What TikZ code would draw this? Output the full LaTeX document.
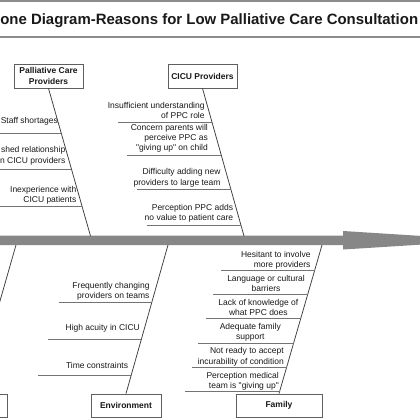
\documentclass[tikz,border=0pt]{standalone}
\usepackage{fontspec}
\setmainfont{Liberation Sans}
\usetikzlibrary{calc}
\definecolor{spinegray}{RGB}{135,135,135}
\definecolor{bonegray}{RGB}{60,60,60}
\definecolor{linegray}{RGB}{115,115,115}
\definecolor{boxgray}{RGB}{95,95,95}
\definecolor{titlegray}{RGB}{140,140,140}
\definecolor{txt}{RGB}{25,25,25}
\begin{document}
\begin{tikzpicture}[x=1pt,y=-1pt,
  catbox/.style={draw=boxgray, line width=0.8pt, fill=white, text=txt,
    font=\fontsize{8.5}{10.8}\selectfont\bfseries, align=center, inner sep=0pt},
  cause/.style={text=txt, font=\fontsize{8.5}{10.2}\selectfont, inner sep=0pt,
    align=right, anchor=east},
  ccause/.style={text=txt, font=\fontsize{8.5}{10.2}\selectfont, inner sep=0pt,
    align=center},
  bone/.style={draw=bonegray, line width=0.75pt},
  uline/.style={draw=linegray, line width=0.75pt}]
\useasboundingbox (0,0) rectangle (420,420);
\clip (0,0) rectangle (420,420);
\fill[white] (0,0) rectangle (420,420);

% title
\draw[titlegray, line width=1.4pt] (-10,1.2) rectangle (430,37);
\node[text=txt, font=\fontsize{14.95}{18}\selectfont\bfseries, anchor=base west, inner sep=0pt]
  (title) at (0.1,25) {one Diagram-Reasons for Low Palliative Care Consultation};

% spine with arrow head
\fill[spinegray] (-10,235.7) -- (343,235.7) -- (343,231) -- (490,240.3)
  -- (343,249.5) -- (343,245) -- (-10,245) -- cycle;
\coordinate (pcpS) at (90.5,236);
\coordinate (cicuS) at (244,236);
\coordinate (patS) at (16,245);
\coordinate (envS) at (168,245);
\coordinate (famS) at (322,245);

% category boxes
\node[catbox, minimum width=69pt, minimum height=24pt] (pcp) at (48.5,76) {Palliative Care\\Providers};
\node[catbox, minimum width=69pt, minimum height=24pt] (cicu) at (202.5,76) {CICU Providers};
\node[catbox, minimum width=67pt, minimum height=23pt] (pat) at (-26.5,405.5) {};
\node[catbox, minimum width=70pt, minimum height=23pt] (env) at (126,405.5) {Environment};
\node[catbox, minimum width=86pt, minimum height=23pt] (fam) at (279,405.5) {Family};

% bones
\draw[bone] (pcp.south) -- (pcpS);
\draw[bone] (cicu.south) -- (cicuS);
\draw[bone] (pat.north) -- (patS);
\draw[bone] (env.north) -- (envS);
\draw[bone] (fam.north) -- (famS);

% Palliative Care Providers causes
\draw[uline] ($(pcp.south)!0.302!(pcpS)$) -- ++(-94,0);
\draw[uline] ($(pcp.south)!0.547!(pcpS)$) -- ++(-94,0);
\draw[uline] ($(pcp.south)!0.797!(pcpS)$) -- ++(-94,0);
\node[cause] (p1) at (58,121.7) {Staff shortages};
\node[cause] (p2) at (65.5,155.8) {shed relationship\\n CICU providers};
\node[cause] (p3) at (76.5,195.3) {Inexperience with\\CICU patients};

% CICU Providers causes
\draw[uline] ($(cicu.south)!0.228!(cicuS)$) -- ++(-94,0);
\draw[uline] ($(cicu.south)!0.457!(cicuS)$) -- ++(-94,0);
\draw[uline] ($(cicu.south)!0.684!(cicuS)$) -- ++(-94,0);
\draw[uline] ($(cicu.south)!0.926!(cicuS)$) -- ++(-94,0);
\node[cause] (c1) at (204.8,110.7) {Insufficient understanding\\of PPC role};
\node[cause] (c2) at (208,138.6) {Concern parents will\\perceive PPC as\\\textquotedbl giving up\textquotedbl{} on child};
\node[cause] (c3) at (220.7,177.9) {Difficulty adding new\\providers to large team};
\node[cause] (c4) at (233.3,213.5) {Perception PPC adds\\no value to patient care};

% Environment causes
\draw[uline] ($(env.north)!0.615!(envS)$) -- ++(-93,0);
\draw[uline] ($(env.north)!0.367!(envS)$) -- ++(-93,0);
\draw[uline] ($(env.north)!0.121!(envS)$) -- ++(-93,0);
\node[cause] (e1) at (149.7,290.9) {Frequently changing\\providers on teams};
\node[cause] (e2) at (140,328.7) {High acuity in CICU};
\node[cause] (e3) at (128.3,365) {Time constraints};

% Family causes
\draw[uline] ($(fam.north)!0.828!(famS)$) -- ++(-94,0);
\draw[uline] ($(fam.north)!0.669!(famS)$) -- ++(-95,0);
\draw[uline] ($(fam.north)!0.503!(famS)$) -- ++(-95,0);
\draw[uline] ($(fam.north)!0.340!(famS)$) -- ++(-96,0);
\draw[uline] ($(fam.north)!0.177!(famS)$) -- ++(-95,0);
\draw[uline] ($(fam.north)!0.015!(famS)$) -- ++(-95,0);
\node[cause] (f1) at (310.7,260) {Hesitant to involve\\more providers};
\node[ccause] (f2) at (266,283.3) {Language or cultural\\barriers};
\node[ccause] (f3) at (258.4,307.3) {Lack of knowledge of\\what PPC does};
\node[ccause] (f4) at (250.3,332.5) {Adequate family\\support};
\node[cause] (f5) at (284,356.7) {Not ready to accept\\incurability of condition};
\node[cause] (f6) at (279,381) {Perception medical\\team is \textquotedbl giving up\textquotedbl};
\end{tikzpicture}
\end{document}
